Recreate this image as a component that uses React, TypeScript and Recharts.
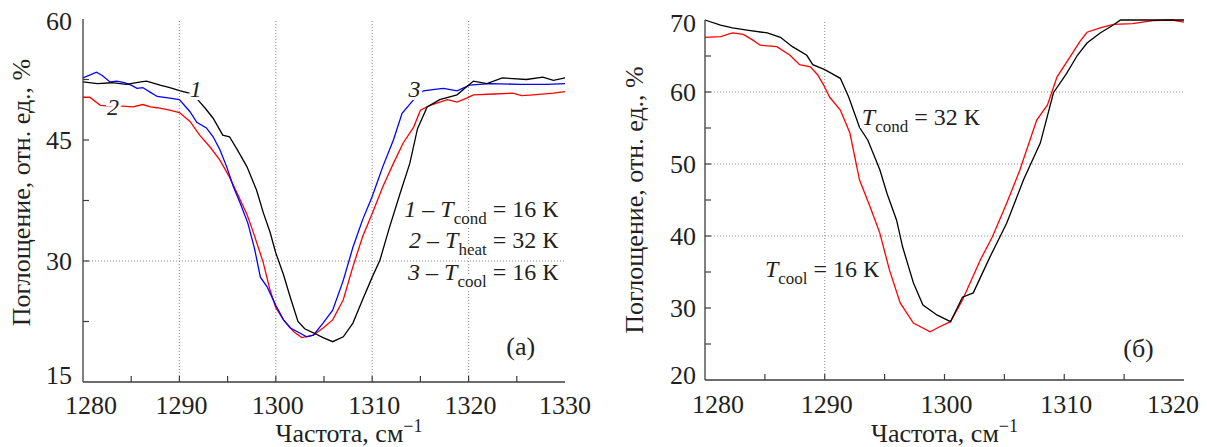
import { LineChart, Line, XAxis, YAxis, ReferenceLine, ReferenceDot } from "recharts";

const SERIF = "Liberation Serif, Tinos, DejaVu Serif, Times New Roman, serif";
const AXIS = "#3c3c3c";
const TXT = "#231f20";
const GRID = "#8a8a8a";

// (а) — left panel
const condFreqA = [1280, 1281.5, 1283, 1284.5, 1286, 1286.6, 1288, 1289, 1290.1, 1291, 1291.9, 1292.7, 1293.5, 1294.5, 1295.2, 1296, 1297, 1298, 1298.7, 1299.4, 1300, 1300.8, 1301.5, 1302.3, 1303, 1303.9, 1304.9, 1305.9, 1307, 1308, 1309, 1310, 1310.8, 1311.8, 1312.9, 1313.9, 1314.7, 1315.7, 1317, 1318.8, 1320.5, 1321.9, 1323.5, 1324.6, 1326, 1327.7, 1328.8, 1330];
const condAbsA = [52.2, 52.0, 52.1, 51.9, 52.2, 52.3, 51.8, 51.5, 51.1, 50.8, 50.0, 48.9, 47.7, 45.6, 45.4, 43.8, 41.7, 38.8, 36.0, 33.6, 31.0, 28.3, 25.5, 22.5, 21.6, 21.1, 20.5, 20.0, 20.6, 22.3, 25.2, 28.0, 30.1, 34.2, 38.4, 42.1, 46.4, 49.1, 50.0, 50.6, 52.3, 52.0, 52.7, 52.6, 52.5, 52.8, 52.4, 52.7];

const heatFreqA = [1280, 1280.7, 1281.8, 1283, 1284.1, 1285.2, 1286.2, 1287, 1287.7, 1289, 1290, 1291.1, 1292.1, 1293.2, 1294.2, 1295.2, 1296.3, 1297, 1297.6, 1298.7, 1299.4, 1300, 1300.8, 1301.9, 1302.7, 1303.9, 1304.9, 1305.9, 1307, 1308, 1309, 1310, 1311.1, 1312.2, 1313.2, 1314.3, 1315, 1316, 1317.8, 1318.8, 1319.8, 1320.5, 1322.6, 1324.6, 1325.5, 1326.7, 1328.8, 1330];
const heatAbsA = [50.3, 50.3, 49.3, 49.2, 49.2, 49.1, 49.4, 49.1, 49.0, 48.7, 48.4, 47.3, 45.6, 44.1, 42.5, 40.4, 37.6, 35.8, 33.8, 29.8, 26.4, 24.2, 22.7, 21.2, 20.5, 20.8, 21.7, 22.7, 25.2, 29.3, 33.0, 35.9, 39.2, 42.1, 44.6, 46.6, 48.7, 49.3, 50.0, 49.7, 50.2, 50.6, 50.7, 50.8, 50.5, 50.6, 50.8, 51.0];

const coolFreqA = [1280, 1281.4, 1282, 1282.8, 1283.5, 1284.3, 1285, 1285.6, 1286.2, 1287, 1287.7, 1289, 1290, 1291.1, 1291.8, 1292.8, 1293.5, 1294.2, 1294.9, 1295.6, 1296.3, 1297.1, 1297.8, 1298.4, 1299.1, 1300, 1300.8, 1301.5, 1302.3, 1303.2, 1303.9, 1304.9, 1305.9, 1307, 1308, 1309, 1310, 1311.1, 1312.2, 1313.1, 1314.3, 1315.3, 1316.7, 1317.4, 1318.8, 1320.1, 1322.2, 1325.3, 1328.1, 1330];
const coolAbsA = [52.7, 53.4, 53.0, 52.2, 52.3, 52.1, 51.8, 51.4, 51.5, 50.9, 50.4, 50.2, 50.0, 48.5, 47.2, 46.5, 45.4, 43.8, 41.7, 39.2, 37.2, 34.7, 31.5, 28.0, 26.8, 24.5, 22.7, 21.7, 21.2, 20.6, 20.8, 22.3, 23.9, 27.6, 31.7, 35.1, 38.0, 41.7, 45.0, 48.3, 50.0, 51.1, 51.3, 51.4, 51.1, 51.8, 52.0, 51.9, 51.9, 52.0];

// (б) — right panel
const condFreqB = [1280, 1281.3, 1282.3, 1283.5, 1285.2, 1286.3, 1287.3, 1288.5, 1289, 1290, 1291.3, 1292, 1292.9, 1293.6, 1294.6, 1295.2, 1296, 1296.5, 1297.4, 1298.2, 1299.4, 1300.5, 1301.5, 1302.4, 1303.8, 1305.2, 1306.6, 1308, 1309.1, 1310.2, 1311.1, 1311.9, 1313, 1314.1, 1314.7, 1317, 1320];
const condAbsB = [70.0, 69.3, 68.9, 68.6, 68.2, 67.6, 66.3, 65.1, 63.8, 63.1, 61.9, 59.3, 55.1, 53.3, 49.2, 45.9, 42.2, 38.5, 33.5, 30.4, 29.0, 28.1, 31.5, 32.1, 37.1, 41.8, 47.8, 52.9, 59.9, 62.6, 65.1, 66.8, 68.2, 69.3, 70.0, 70.0, 70.0];

const coolFreqB = [1280, 1281.3, 1282.3, 1283.2, 1284, 1284.6, 1286, 1287.1, 1287.9, 1288.8, 1289.4, 1289.9, 1290.4, 1291.3, 1292.1, 1292.9, 1293.8, 1294.6, 1295.4, 1296.3, 1297.4, 1298.8, 1299.6, 1300.5, 1301.5, 1303, 1304, 1305.2, 1306.3, 1307.7, 1308.6, 1309.4, 1310.5, 1311.3, 1311.9, 1313, 1314.1, 1315.7, 1317.4, 1319, 1320];
const coolAbsB = [67.6, 67.7, 68.2, 68.0, 67.2, 66.5, 66.3, 65.1, 63.8, 63.5, 62.4, 61.0, 59.3, 57.5, 54.3, 47.8, 44.0, 40.4, 35.3, 30.7, 27.9, 26.7, 27.4, 28.1, 31.1, 36.7, 39.9, 44.6, 49.2, 56.1, 58.2, 62.1, 64.9, 67.0, 68.3, 68.9, 69.4, 69.5, 69.9, 70.0, 69.7];

const xTicksA = [1280, 1285, 1290, 1295, 1300, 1305, 1310, 1315, 1320, 1325, 1330];
const xLabelsA = [1280, 1290, 1300, 1310, 1320, 1330];
const yTicksA = [15, 22.5, 30, 37.5, 45, 52.5, 60];
const yLabelsA = [15, 30, 45, 60];

const xTicksB = [1280, 1285, 1290, 1295, 1300, 1305, 1310, 1315, 1320];
const xLabelsB = [1280, 1290, 1300, 1310, 1320];
const yTicksB = [20, 25, 30, 35, 40, 45, 50, 55, 60, 65, 70];
const yLabelsB = [20, 30, 40, 50, 60, 70];

const yTitle = "Поглощение, отн. ед., %";
const xTitle = "Частота, см";

const pts = (f: number[], v: number[]) => f.map((x, i) => ({ f: x, v: v[i] }));

const serif = { fontFamily: SERIF };
const tickFont = { style: serif, fontSize: 26, fill: TXT };
const halo = { stroke: "#fff", strokeWidth: 6, paintOrder: "stroke" as const };

const bottomTick = (labels: number[], first: number, last: number, dxFirst: number, dxLast: number, dy: number) => (p: any) => {
  const v = p.payload.value;
  const dx = v === first ? dxFirst : v === last ? dxLast : 2;
  return (
    <g>
      {v !== first && v !== last && <line x1={p.x} x2={p.x} y1={p.y} y2={p.y - 6} stroke={AXIS} strokeWidth={1.2} />}
      {labels.includes(v) && (
        <text x={p.x + dx} y={p.y + dy} textAnchor="middle" {...tickFont}>{v}</text>
      )}
    </g>
  );
};

const topTick = (first: number, last: number) => (p: any) => {
  const v = p.payload.value;
  if (v === first || v === last) return <g />;
  return <line x1={p.x} x2={p.x} y1={p.y} y2={p.y + 6} stroke={AXIS} strokeWidth={1.2} />;
};

const leftTick = (labels: number[], min: number, max: number, dyMin: number, dyMax: number, gap: number) => (p: any) => {
  const v = p.payload.value;
  const dy = v === min ? dyMin : v === max ? dyMax : 9;
  return (
    <g>
      {v !== min && v !== max && <line x1={p.x} x2={p.x + 6} y1={p.y} y2={p.y} stroke={AXIS} strokeWidth={1.2} />}
      {labels.includes(v) && (
        <text x={p.x - gap} y={p.y + dy} textAnchor="end" {...tickFont}>{v}</text>
      )}
    </g>
  );
};

const rightTick = (min: number, max: number) => (p: any) => {
  const v = p.payload.value;
  if (v === min || v === max) return <g />;
  return <line x1={p.x} x2={p.x - 6} y1={p.y} y2={p.y} stroke={AXIS} strokeWidth={1.2} />;
};

const xTitleLabel = (dx: number, dy: number) => (p: any) => {
  const vb = p.viewBox;
  return (
    <text x={vb.x + vb.width / 2 + dx} y={vb.y + dy} textAnchor="middle" style={serif} fontSize={26} fill={TXT}>
      {xTitle}
      <tspan fontSize={18} dy={-10}>{"\u2212"}1</tspan>
    </text>
  );
};

const yTitleLabel = (bx: number, dy: number) => (p: any) => {
  const vb = p.viewBox;
  const cx = vb.x + bx;
  const cy = vb.y + vb.height / 2 + dy;
  return (
    <text x={cx} y={cy} transform={`rotate(-90, ${cx}, ${cy})`} textAnchor="middle" style={serif} fontSize={26} fill={TXT}>
      {yTitle}
    </text>
  );
};

const tempLabel = (num: string, sub: string, value: string, anchor: "start" | "end") => (p: any) => {
  const vb = p.viewBox;
  const x = vb.x + vb.width / 2;
  const y = vb.y + vb.height / 2;
  return (
    <text x={x} y={y} textAnchor={anchor} style={serif} fontSize={24} fill={TXT} {...halo}>
      {num && <tspan fontStyle="italic">{num}</tspan>}
      {num && <tspan>{"\u00a0\u2013\u00a0"}</tspan>}
      <tspan fontStyle="italic">T</tspan>
      <tspan fontSize={17} dy={7}>{sub}</tspan>
      <tspan dy={-7}>{"\u00a0=\u00a0" + value}</tspan>
    </text>
  );
};

const plainLabel = (text: string, italic: boolean, size: number) => (p: any) => {
  const vb = p.viewBox;
  return (
    <text x={vb.x + vb.width / 2} y={vb.y + vb.height / 2} textAnchor="middle" style={serif} fontSize={size} fontStyle={italic ? "italic" : "normal"} fill={TXT} {...halo}>
      {text}
    </text>
  );
};

const axisLine = { stroke: AXIS, strokeWidth: 1.3 };
const dotted = { stroke: GRID, strokeDasharray: "1 2", strokeWidth: 1 };

function PanelA() {
  return (
    <LineChart width={600} height={447} margin={{ top: 19, right: 35, bottom: 0, left: 0 }}>
      <XAxis xAxisId="b" type="number" dataKey="f" domain={[1280, 1330]} ticks={xTicksA} interval={0} height={65}
        tickSize={0} tickMargin={0} tickLine={false} axisLine={axisLine}
        tick={bottomTick(xLabelsA, 1280, 1330, 8, 0, 32)} label={xTitleLabel(25, 60)} />
      <XAxis xAxisId="t" orientation="top" type="number" domain={[1280, 1330]} ticks={xTicksA} interval={0} height={0}
        tickSize={0} tickMargin={0} tickLine={false} axisLine={axisLine} tick={topTick(1280, 1330)} />
      <YAxis yAxisId="l" type="number" domain={[15, 60]} ticks={yTicksA} interval={0} width={83}
        tickSize={0} tickMargin={0} tickLine={false} axisLine={axisLine}
        tick={leftTick(yLabelsA, 15, 60, 2, 11, 11)} label={yTitleLabel(30, -8)} />
      <YAxis yAxisId="r" orientation="right" type="number" domain={[15, 60]} width={0} tick={false} tickLine={false} axisLine={axisLine} />

      {[1290, 1300, 1310, 1320].map((x) => (
        <ReferenceLine key={x} x={x} xAxisId="b" yAxisId="l" {...dotted} />
      ))}
      <ReferenceLine y={30} xAxisId="b" yAxisId="l" {...dotted} />

      <Line xAxisId="b" yAxisId="l" data={pts(heatFreqA, heatAbsA)} dataKey="v" type="linear" stroke="#ff0000" strokeWidth={1.3} dot={false} isAnimationActive={false} />
      <Line xAxisId="b" yAxisId="l" data={pts(coolFreqA, coolAbsA)} dataKey="v" type="linear" stroke="#0000ff" strokeWidth={1.3} dot={false} isAnimationActive={false} />
      <Line xAxisId="b" yAxisId="l" data={pts(condFreqA, condAbsA)} dataKey="v" type="linear" stroke="#000000" strokeWidth={1.3} dot={false} isAnimationActive={false} />

      <ReferenceDot xAxisId="b" yAxisId="l" x={1291.7} y={50.3} r={0} fill="none" stroke="none" label={plainLabel("1", true, 24)} />
      <ReferenceDot xAxisId="b" yAxisId="l" x={1283.1} y={48.1} r={0} fill="none" stroke="none" label={plainLabel("2", true, 24)} />
      <ReferenceDot xAxisId="b" yAxisId="l" x={1314.4} y={50.3} r={0} fill="none" stroke="none" label={plainLabel("3", true, 24)} />
      <ReferenceDot xAxisId="b" yAxisId="l" x={1329.3} y={35.45} r={0} fill="none" stroke="none" label={tempLabel("1", "cond", "16 К", "end")} />
      <ReferenceDot xAxisId="b" yAxisId="l" x={1329.3} y={31.6} r={0} fill="none" stroke="none" label={tempLabel("2", "heat", "32 К", "end")} />
      <ReferenceDot xAxisId="b" yAxisId="l" x={1329.3} y={27.65} r={0} fill="none" stroke="none" label={tempLabel("3", "cool", "16 К", "end")} />
      <ReferenceDot xAxisId="b" yAxisId="l" x={1325.4} y={18.35} r={0} fill="none" stroke="none" label={plainLabel("(а)", false, 26)} />
    </LineChart>
  );
}

function PanelB() {
  return (
    <LineChart width={587} height={447} margin={{ top: 20, right: 23, bottom: 0, left: 0 }}>
      <XAxis xAxisId="b" type="number" dataKey="f" domain={[1280, 1320]} ticks={xTicksB} interval={0} height={67}
        tickSize={0} tickMargin={0} tickLine={false} axisLine={axisLine}
        tick={bottomTick(xLabelsB, 1280, 1320, 13, -11, 33)} label={xTitleLabel(0, 62)} />
      <XAxis xAxisId="t" orientation="top" type="number" domain={[1280, 1320]} ticks={xTicksB} interval={0} height={0}
        tickSize={0} tickMargin={0} tickLine={false} axisLine={axisLine} tick={topTick(1280, 1320)} />
      <YAxis yAxisId="l" type="number" domain={[20, 70]} ticks={yTicksB} interval={0} width={85}
        tickSize={0} tickMargin={0} tickLine={false} axisLine={axisLine}
        tick={leftTick(yLabelsB, 20, 70, 4, 12, 9)} label={yTitleLabel(23, 0)} />
      <YAxis yAxisId="r" orientation="right" type="number" domain={[20, 70]} ticks={yTicksB} interval={0} width={0}
        tickSize={0} tickMargin={0} tickLine={false} axisLine={axisLine} tick={rightTick(20, 70)} />

      <ReferenceLine x={1290} xAxisId="b" yAxisId="l" {...dotted} />
      {[40, 50, 60].map((y) => (
        <ReferenceLine key={y} y={y} xAxisId="b" yAxisId="l" {...dotted} />
      ))}

      <Line xAxisId="b" yAxisId="l" data={pts(coolFreqB, coolAbsB)} dataKey="v" type="linear" stroke="#ff0000" strokeWidth={1.3} dot={false} isAnimationActive={false} />
      <Line xAxisId="b" yAxisId="l" data={pts(condFreqB, condAbsB)} dataKey="v" type="linear" stroke="#000000" strokeWidth={1.3} dot={false} isAnimationActive={false} />

      <ReferenceDot xAxisId="b" yAxisId="l" x={1293.1} y={55.4} r={0} fill="none" stroke="none" label={tempLabel("", "cond", "32 К", "start")} />
      <ReferenceDot xAxisId="b" yAxisId="l" x={1285.0} y={34.3} r={0} fill="none" stroke="none" label={tempLabel("", "cool", "16 К", "start")} />
      <ReferenceDot xAxisId="b" yAxisId="l" x={1316.2} y={23.2} r={0} fill="none" stroke="none" label={plainLabel("(б)", false, 26)} />
    </LineChart>
  );
}

export default function App() {
  return (
    <div style={{ position: "absolute", left: 0, top: 0, width: 1207, height: 447, background: "#fff", fontFamily: SERIF }}>
      <div style={{ position: "absolute", left: 0, top: 0 }}>
        <PanelA />
      </div>
      <div style={{ position: "absolute", left: 620, top: 0 }}>
        <PanelB />
      </div>
    </div>
  );
}
